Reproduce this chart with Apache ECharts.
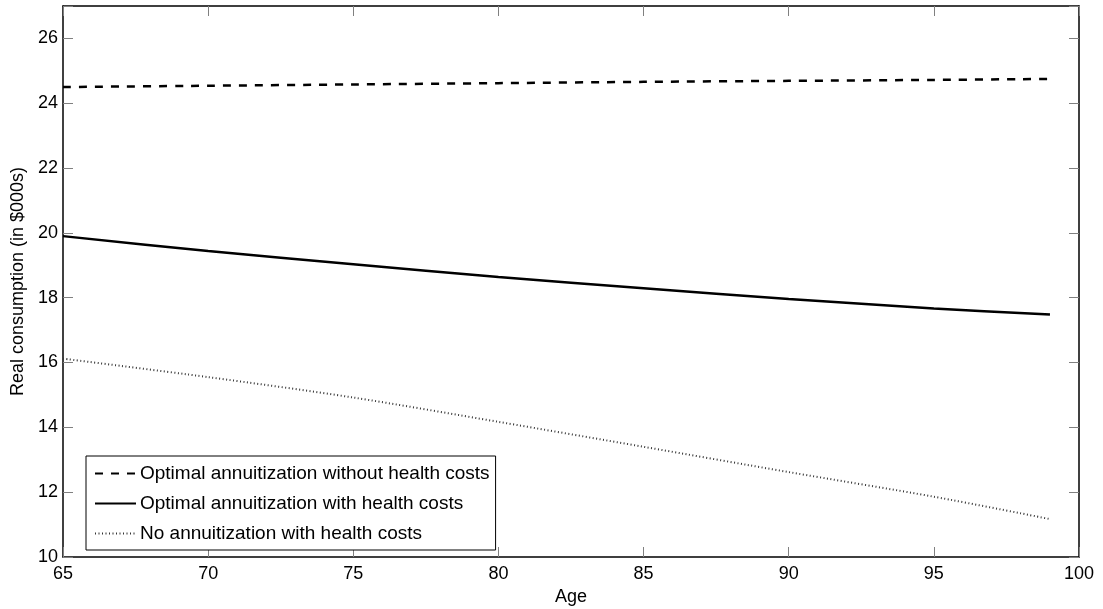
<!DOCTYPE html>
<html>
<head>
<meta charset="utf-8">
<script src="https://cdn.jsdelivr.net/npm/echarts@6/dist/echarts.min.js"></script>
<style>
html,body{margin:0;padding:0;background:#fff;}
#chart{width:1103px;height:609px;}
</style>
</head>
<body>
<div id="chart"></div>
<script>
const ages = [65, 70, 75, 80, 85, 90, 95, 99];
const withoutHealthCosts = [24.50, 24.54, 24.58, 24.62, 24.66, 24.69, 24.72, 24.75];
const withHealthCosts = [19.90, 19.44, 19.03, 18.64, 18.29, 17.96, 17.67, 17.48];
const noAnnuitization = [16.12, 15.55, 14.92, 14.17, 13.40, 12.62, 11.86, 11.17];
const seriesNames = [
  'Optimal annuitization without health costs',
  'Optimal annuitization with health costs',
  'No annuitization with health costs'
];
const xTitle = 'Age';
const yTitle = 'Real consumption (in $000s)';

const FONT = '"Liberation Sans", Arial, Helvetica, sans-serif';
const chart = echarts.init(document.getElementById('chart'), null, {renderer: 'canvas'});

function pairs(ys) { return ages.map((a, i) => [a, ys[i]]); }

const tickStyle = {show: true, inside: true, length: 10, lineStyle: {color: '#808080', width: 1}};
const lineAxis = {show: true, onZero: false, lineStyle: {color: '#000', width: 1.5}};

chart.setOption({
  animation: false,
  backgroundColor: '#fff',
  grid: {left: 63, right: 24, top: 6, bottom: 52, containLabel: false, outerBoundsMode: 'none'},
  legend: {
    orient: 'vertical',
    left: 86, top: 456,
    itemWidth: 41, itemHeight: 14, itemGap: 11,
    padding: [8, 6, 7, 8],
    borderColor: '#000', borderWidth: 1,
    backgroundColor: '#fff',
    itemStyle: {opacity: 0},
    textStyle: {fontFamily: FONT, fontSize: 19, color: '#000', padding: [0, 0, 0, -1]},
    data: seriesNames
  },
  xAxis: [{
    type: 'value', min: 65, max: 100, interval: 5, position: 'bottom',
    axisLine: lineAxis, axisTick: tickStyle, splitLine: {show: false},
    axisLabel: {fontFamily: FONT, fontSize: 18, color: '#000', margin: 8},
    name: xTitle, nameLocation: 'middle', nameGap: 27,
    nameTextStyle: {fontFamily: FONT, fontSize: 18, color: '#000'}
  }, {
    type: 'value', min: 65, max: 100, interval: 5, position: 'top',
    axisLine: lineAxis, axisTick: tickStyle, splitLine: {show: false},
    axisLabel: {show: false}
  }],
  yAxis: [{
    type: 'value', min: 10, max: 27, interval: 2, position: 'left',
    axisLine: lineAxis, axisTick: tickStyle, splitLine: {show: false},
    axisLabel: {fontFamily: FONT, fontSize: 18, color: '#000', margin: 5,
      formatter: v => (v % 2 === 0 ? String(v) : '')},
    name: yTitle, nameLocation: 'middle', nameGap: 33,
    nameTextStyle: {fontFamily: FONT, fontSize: 18, color: '#000'}
  }, {
    type: 'value', min: 10, max: 27, interval: 2, position: 'right',
    axisLine: lineAxis, axisTick: tickStyle, splitLine: {show: false},
    axisLabel: {show: false}
  }],
  series: [{
    name: seriesNames[0], type: 'line', symbol: 'none', smooth: 0.3,
    data: pairs(withoutHealthCosts),
    lineStyle: {color: '#000', width: 2.5, type: [8, 8]},
    itemStyle: {color: '#000'}
  }, {
    name: seriesNames[1], type: 'line', symbol: 'none', smooth: 0.3,
    data: pairs(withHealthCosts),
    lineStyle: {color: '#000', width: 2.5, type: 'solid'},
    itemStyle: {color: '#000'}
  }, {
    name: seriesNames[2], type: 'line', symbol: 'none', smooth: 0.3,
    data: pairs(noAnnuitization),
    lineStyle: {color: '#333', width: 2, type: [1, 2.5]},
    itemStyle: {color: '#333'}
  }]
});
</script>
</body>
</html>
